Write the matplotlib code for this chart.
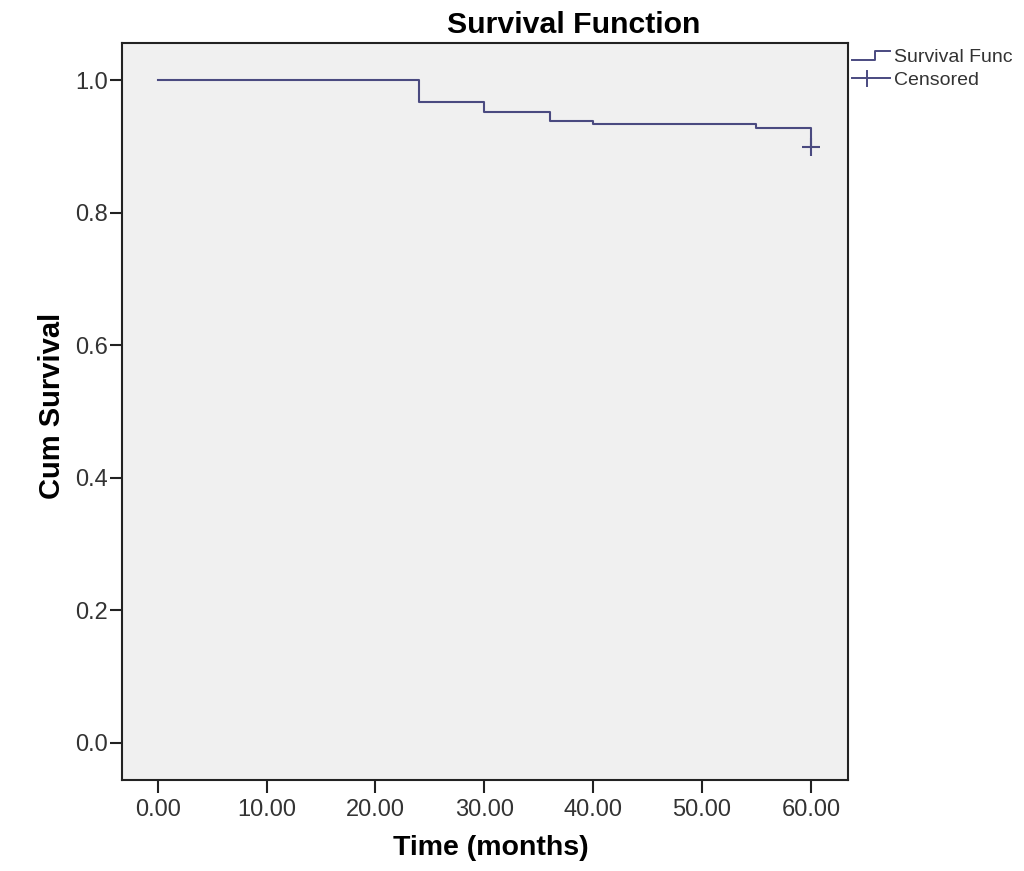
import matplotlib.pyplot as plt
from matplotlib.legend_handler import HandlerBase
from matplotlib.lines import Line2D

# Kaplan-Meier steps
event_times = [0, 24, 30, 36, 40, 55, 60]
survival = [1.0, 0.967, 0.952, 0.938, 0.934, 0.928, 0.899]
censored_t = [60]
censored_s = [0.899]

x_ticks = [0, 10, 20, 30, 40, 50, 60]
y_ticks = [0.0, 0.2, 0.4, 0.6, 0.8, 1.0]

line_color = '#4a4a80'
bg = '#f0f0f0'
font = ['Liberation Sans', 'DejaVu Sans']


class StepHandler(HandlerBase):
    def create_artists(self, legend, orig_handle, xd, yd, w, h, fontsize, trans):
        xs = [xd, xd + w * 0.6, xd + w * 0.6, xd + w]
        ys = [yd + h * 0.15, yd + h * 0.15, yd + h * 0.85, yd + h * 0.85]
        ln = Line2D(xs, ys, color=line_color, lw=1.4, transform=trans)
        return [ln]


class CensorHandler(HandlerBase):
    def create_artists(self, legend, orig_handle, xd, yd, w, h, fontsize, trans):
        ym = yd + h / 2
        xm = xd + w * 0.4
        l1 = Line2D([xd, xd + w], [ym, ym], color=line_color, lw=1.4, transform=trans)
        l2 = Line2D([xm, xm], [ym - h * 0.55, ym + h * 0.55], color=line_color,
                    lw=1.4, transform=trans)
        return [l1, l2]


fig = plt.figure(figsize=(10.24, 8.71), dpi=100)
ax = fig.add_axes([0.119, 0.1045, 0.709, 0.846])
ax.set_facecolor(bg)

ax.step(event_times, survival, where='post', color=line_color, lw=1.5)
ax.plot(censored_t, censored_s, marker='+', ms=13, mew=1.5, ls='none', color=line_color)

ax.set_xlim(-3.3, 63.4)
ax.set_ylim(-0.056, 1.056)
ax.set_xticks(x_ticks)
ax.set_xticklabels(['%.2f' % v for v in x_ticks])
ax.set_yticks(y_ticks)
ax.set_yticklabels(['%.1f' % v for v in y_ticks])
ax.tick_params(direction='out', length=9, width=1.5, labelsize=17, colors='#222222',
               labelcolor='#333333', top=False, right=False)
ax.tick_params(axis='x', pad=5)
ax.tick_params(axis='y', pad=1)
for lab in ax.get_xticklabels() + ax.get_yticklabels():
    lab.set_family(font)
for s in ax.spines.values():
    s.set_linewidth(1.5)
    s.set_color('#222222')

ax.set_xlabel('Time (months)', fontsize=20.5, fontweight='bold', family=font)
ax.xaxis.set_label_coords(0.508, -0.074)
ax.set_ylabel('Cum Survival', fontsize=21, fontweight='bold', family=font)
ax.yaxis.set_label_coords(-0.077, 0.508)
fig.text(0.5605, 1 - 25 / 871, 'Survival Function', fontsize=21.8, fontweight='bold',
         family=font, ha='center', va='center')

h1 = Line2D([], [], color=line_color)
h2 = Line2D([], [], color=line_color, marker='+')
leg = fig.legend([h1, h2], ['Survival Func', 'Censored'],
                 handler_map={h1: StepHandler(), h2: CensorHandler()},
                 loc='upper left', bbox_to_anchor=(0.832, 0.944),
                 frameon=False, fontsize=14, handlelength=1.95, handletextpad=0.2,
                 labelspacing=0.25, borderaxespad=0, borderpad=0)
for t in leg.get_texts():
    t.set_family(font)
    t.set_color('#333333')

fig.savefig('out.png', dpi=100, facecolor='white')
